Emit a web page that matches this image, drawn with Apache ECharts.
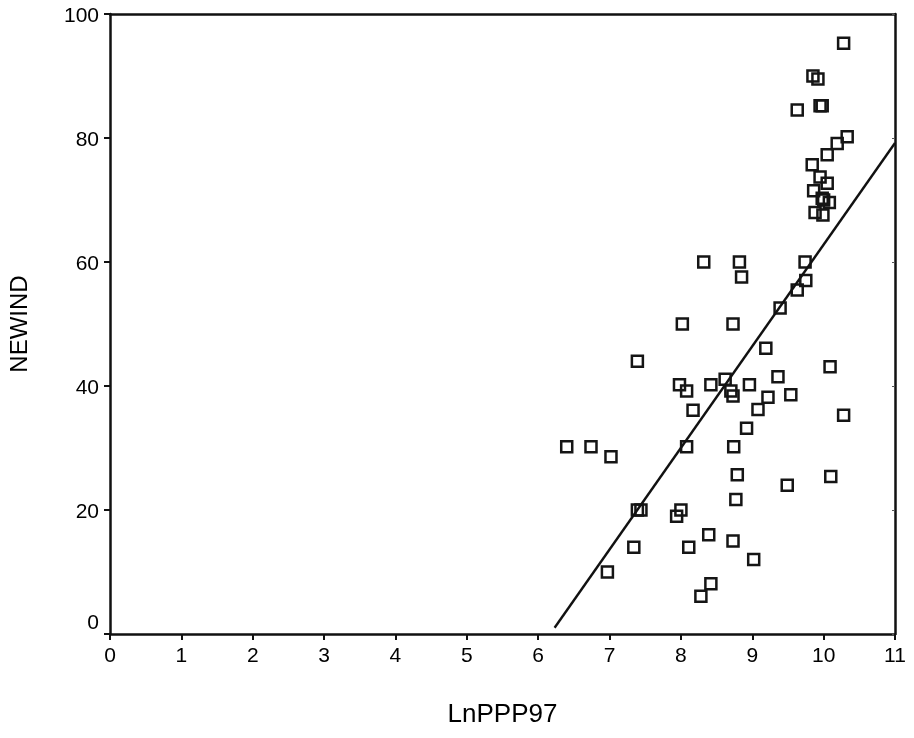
<!DOCTYPE html>
<html>
<head>
<meta charset="utf-8">
<script src="https://cdn.jsdelivr.net/npm/echarts@6/dist/echarts.min.js"></script>
<style>html,body{margin:0;padding:0;background:#fff;}#c{width:914px;height:738px;}</style>
</head>
<body>
<div id="c"></div>
<script>
var xValues = [10.28, 9.85, 9.92, 9.63, 9.95, 9.98, 10.33, 10.19, 10.05, 9.84, 9.95, 10.05, 9.86, 9.98, 10.00, 10.08, 9.88, 9.99,
  8.32, 8.82, 9.74, 8.85, 9.75, 9.63, 9.39, 8.02, 8.73, 9.19, 10.09, 7.39, 9.36, 8.62, 7.98, 8.42, 8.96, 8.08, 8.70, 8.73, 9.22, 9.54,
  8.17, 9.08, 10.28, 8.92, 8.08, 8.74, 6.40, 6.74, 7.02, 8.79, 10.10, 9.49, 8.77, 7.39, 7.44, 8.00, 7.94, 8.39, 8.73, 9.02, 7.34, 8.11,
  6.97, 8.42, 8.28];
var yValues = [95.3, 90.0, 89.5, 84.5, 85.2, 85.2, 80.2, 79.1, 77.3, 75.7, 73.7, 72.7, 71.5, 70.3, 70.0, 69.6, 68.0, 67.6,
  60.0, 60.0, 60.0, 57.6, 57.0, 55.5, 52.6, 50.0, 50.0, 46.1, 43.1, 44.0, 41.5, 41.1, 40.2, 40.2, 40.2, 39.2, 39.2, 38.4, 38.2, 38.6,
  36.1, 36.2, 35.3, 33.2, 30.2, 30.2, 30.2, 30.2, 28.6, 25.7, 25.4, 24.0, 21.7, 20.0, 20.0, 20.0, 19.0, 16.0, 15.0, 12.0, 14.0, 14.0,
  10.0, 8.1, 6.1];
var fitLineX = [6.23, 11];
var fitLineY = [1.0, 79.2];
var xTicks = [0,1,2,3,4,5,6,7,8,9,10,11];
var yTicks = [0,20,40,60,80,100];

var points = xValues.map(function(x, i){ return [x, yValues[i]]; });
var linePts = fitLineX.map(function(x, i){ return [x, fitLineY[i]]; });

var chart = echarts.init(document.getElementById('c'), null, {renderer:'canvas'});
var font = 'Liberation Sans, Arial, sans-serif';
var axisLineStyle = {color:'#111', width:2.5};
chart.setOption({
  backgroundColor:'#fff',
  animation:false,
  grid:{left:106, right:19, top:14, bottom:104, containLabel:false},
  xAxis:[{
    type:'value', min:0, max:11, interval:1, position:'bottom',
    name:'LnPPP97', nameLocation:'middle', nameGap:68,
    nameTextStyle:{fontFamily:font, fontSize:26, color:'#000'},
    axisLine:{show:true, onZero:false, lineStyle:axisLineStyle},
    axisTick:{show:true, inside:false, length:6, lineStyle:{color:'#111', width:2}},
    axisLabel:{fontFamily:font, fontSize:21, color:'#000', margin:12},
    splitLine:{show:false}
  },{
    type:'value', min:0, max:11, interval:1, position:'top',
    axisLine:{show:true, onZero:false, lineStyle:axisLineStyle},
    axisTick:{show:false}, axisLabel:{show:false}, splitLine:{show:false}
  }],
  yAxis:[{
    type:'value', min:0, max:100, interval:20, position:'left',
    name:'NEWIND', nameLocation:'middle', nameGap:78, nameRotate:90,
    nameTextStyle:{fontFamily:font, fontSize:24, color:'#000'},
    axisLine:{show:true, onZero:false, lineStyle:axisLineStyle},
    axisTick:{show:true, inside:false, length:6, lineStyle:{color:'#111', width:2}},
    axisLabel:{fontFamily:font, fontSize:21, color:'#000', margin:11,
      formatter:function(v){ return v === 0 ? '{z|0}' : '{n|' + v + '}'; },
      rich:{z:{fontFamily:font, fontSize:21, color:'#000', padding:[0,0,22,0]},
            n:{fontFamily:font, fontSize:21, color:'#000', padding:[4,0,0,0]}}},
    splitLine:{show:false}
  },{
    type:'value', min:0, max:100, interval:20, position:'right',
    axisLine:{show:true, onZero:false, lineStyle:axisLineStyle},
    axisTick:{show:true, inside:true, length:3, lineStyle:{color:'#555', width:1}},
    axisLabel:{show:false}, splitLine:{show:false}
  }],
  series:[{
    type:'scatter', data:points, symbol:'rect', symbolSize:11,
    itemStyle:{color:'rgba(0,0,0,0)', borderColor:'#151515', borderWidth:2.5, opacity:1}
  },{
    type:'line', data:linePts, symbol:'none',
    lineStyle:{color:'#111', width:2.4}
  }]
});
</script>
</body>
</html>
